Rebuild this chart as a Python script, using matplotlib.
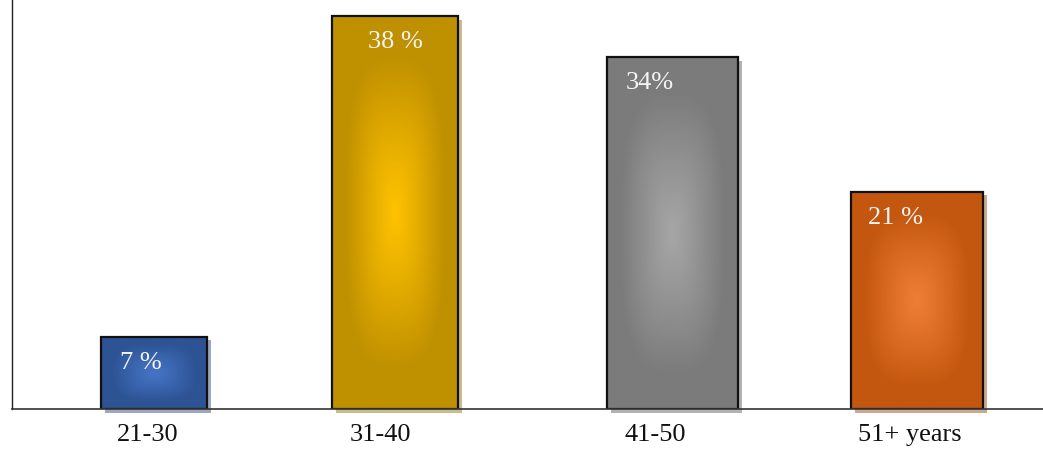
import numpy as np
import matplotlib
matplotlib.use("Agg")
import matplotlib.pyplot as plt
from matplotlib.patches import Rectangle
from matplotlib.colors import to_rgb
from matplotlib.transforms import ScaledTranslation

# Data
categories = ["21-30", "31-40", "41-50", "51+ years"]
shares = [7, 38, 34, 21]
share_labels = ["7 %", "38 %", "34%", "21 %"]

# Layout (x in axis units)
bar_centers = [142, 383, 660.5, 905]
bar_widths = [106, 126, 131, 132]
tick_positions = [136, 368, 643, 898]
label_x = [129, 383, 638, 884]

# Styles: (edge colour, centre colour) of each bar's gradient
edge_colors = ["#2d5394", "#bf9000", "#7b7b7b", "#c4570f"]
center_colors = ["#4674c6", "#ffc200", "#a6a6a6", "#ee7e35"]
shadow_colors = ["#1f3d70", "#8a6a00", "#555555", "#8c3e0a"]

SERIF = ["Liberation Serif", "DejaVu Serif"]


def rect_gradient(edge, center, nx=120, ny=300, p=3.0):
    u = np.abs(np.linspace(-1, 1, nx))[None, :]
    v = np.abs(np.linspace(-1, 1, ny))[:, None]
    d = (u ** p + v ** p) ** (1 / p)
    d = np.clip(d / 0.8, 0, 1) ** 1.1
    e = np.array(to_rgb(edge))
    c = np.array(to_rgb(center))
    return c[None, None, :] * (1 - d[..., None]) + e[None, None, :] * d[..., None]


fig = plt.figure(figsize=(10.43, 4.52), dpi=100)
ax = fig.add_axes([12 / 1043, 42 / 452, 1031 / 1043, 410 / 452])
ax.set_xlim(0, 1031)
ax.set_ylim(0, 39.65)

shadow_off = ScaledTranslation(3.5 / 100, -3.5 / 100, fig.dpi_scale_trans)

bars = ax.bar(bar_centers, shares, width=bar_widths, facecolor="none",
              edgecolor="#111111", linewidth=1.6, zorder=4)

for bar, edge, center, shc in zip(bars, edge_colors, center_colors, shadow_colors):
    x0, w, h = bar.get_x(), bar.get_width(), bar.get_height()
    sh = Rectangle((x0, 0), w, h, facecolor=shc, edgecolor="none", alpha=0.45,
                   transform=ax.transData + shadow_off, zorder=2, clip_on=False)
    ax.add_patch(sh)
    img = ax.imshow(rect_gradient(edge, center), extent=(x0, x0 + w, 0, h),
                    aspect="auto", origin="lower", zorder=3, interpolation="bilinear")
    clip = Rectangle((x0, 0), w, h, transform=ax.transData, facecolor="none",
                     edgecolor="none")
    ax.add_patch(clip)
    img.set_clip_path(clip)

for lx, val, txt in zip(label_x, shares, share_labels):
    ax.annotate(txt, xy=(lx, val), xytext=(0, -18), textcoords="offset points",
                ha="center", va="center", color="#f4f4f4", fontsize=19,
                family=SERIF, zorder=5)

ax.set_xticks(tick_positions)
ax.set_xticklabels(categories, family=SERIF, fontsize=19, color="#111111")
ax.set_yticks([])
ax.tick_params(axis="x", length=0, pad=10)
for side in ("top", "right"):
    ax.spines[side].set_visible(False)
ax.spines["left"].set_color("#222222")
ax.spines["bottom"].set_color("#333333")
ax.spines["left"].set_linewidth(1.0)
ax.spines["bottom"].set_linewidth(1.2)
ax.spines["left"].set_zorder(6)
ax.spines["bottom"].set_zorder(6)

fig.savefig("out.png", dpi=100)
